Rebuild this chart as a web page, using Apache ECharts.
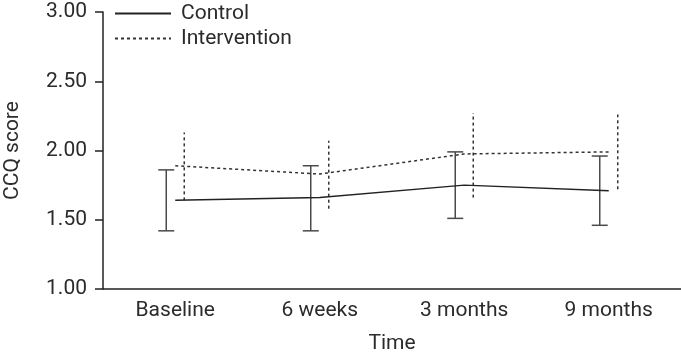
<!DOCTYPE html>
<html>
<head>
<meta charset="utf-8">
<script src="https://cdn.jsdelivr.net/npm/echarts@6/dist/echarts.min.js"></script>
<style>
  html, body { margin: 0; padding: 0; background: #fff; }
  #chart { width: 681px; height: 353px; }
</style>
</head>
<body>
<div id="chart"></div>
<script>
// time points and CCQ scores
const categories = ['Baseline', '6 weeks', '3 months', '9 months'];
const controlMean = [1.64, 1.66, 1.75, 1.71];
const controlLow = [1.42, 1.42, 1.51, 1.46];
const controlHigh = [1.86, 1.89, 1.99, 1.96];
const interventionMean = [1.89, 1.83, 1.975, 1.99];
const interventionLow = [1.64, 1.58, 1.66, 1.72];
const interventionHigh = [2.13, 2.07, 2.27, 2.26];

const textColor = '#2b2b2b';
const font = 'Roboto';

const errData = (lo, hi) => lo.map((v, i) => [i, v, hi[i]]);

// error bars drawn beside the category point, control left, intervention right
function errorBar(offset, dashed) {
  return function (params, api) {
    const i = api.value(0);
    const lo = api.coord([i, api.value(1)]);
    const hi = api.coord([i, api.value(2)]);
    const x = lo[0] + offset;
    const style = dashed
      ? { stroke: '#333', lineWidth: 1.5, lineDash: [3, 3] }
      : { stroke: '#4a4a4a', lineWidth: 1.5 };
    const children = [
      { type: 'line', shape: { x1: x, y1: lo[1], x2: x, y2: hi[1] }, style: style }
    ];
    if (!dashed) {
      children.push({ type: 'line', shape: { x1: x - 8, y1: lo[1], x2: x + 8, y2: lo[1] }, style: style });
      children.push({ type: 'line', shape: { x1: x - 8, y1: hi[1], x2: x + 8, y2: hi[1] }, style: style });
    }
    return { type: 'group', children: children };
  };
}

const chart = echarts.init(document.getElementById('chart'));
chart.setOption({
  animation: false,
  grid: { left: 103, right: 0, top: 12, bottom: 64, outerBoundsMode: 'none', containLabel: false },
  legend: {
    orient: 'vertical',
    left: 109,
    top: -2,
    itemWidth: 56,
    itemHeight: 10,
    itemGap: 4,
    itemStyle: { opacity: 0 },
    data: ['Control', 'Intervention'],
    textStyle: { color: textColor, fontSize: 21, fontFamily: font, padding: [0, 0, 0, 5] }
  },
  xAxis: {
    type: 'category',
    data: categories,
    boundaryGap: true,
    name: 'Time',
    nameLocation: 'middle',
    nameGap: 44,
    nameTextStyle: { color: textColor, fontSize: 21, fontFamily: font },
    axisLine: { lineStyle: { color: '#222', width: 1.5 } },
    axisTick: { alignWithLabel: true, length: 8, lineStyle: { color: '#222', width: 1.5 } },
    axisLabel: { color: textColor, fontSize: 21, fontFamily: font, margin: 11 }
  },
  yAxis: {
    type: 'value',
    min: 1,
    max: 3,
    interval: 0.5,
    name: 'CCQ score',
    nameLocation: 'middle',
    nameGap: 80,
    nameTextStyle: { color: textColor, fontSize: 21, fontFamily: font },
    splitLine: { show: false },
    axisLine: { show: true, lineStyle: { color: '#222', width: 1.5 } },
    axisTick: { show: true, length: 8, lineStyle: { color: '#222', width: 1.5 } },
    axisLabel: { color: textColor, fontSize: 21, fontFamily: font, margin: 16, formatter: v => v.toFixed(2) }
  },
  series: [
    {
      name: 'Control',
      type: 'line',
      data: controlMean,
      symbol: 'none',
      lineStyle: { color: '#222', width: 1.5 },
      itemStyle: { color: '#222' }
    },
    {
      name: 'Intervention',
      type: 'line',
      data: interventionMean,
      symbol: 'none',
      lineStyle: { color: '#333', width: 1.5, type: [3, 3] },
      itemStyle: { color: '#333' }
    },
    {
      type: 'custom',
      data: errData(controlLow, controlHigh),
      renderItem: errorBar(-9, false),
      encode: { x: 0, y: [1, 2] },
      z: 3
    },
    {
      type: 'custom',
      data: errData(interventionLow, interventionHigh),
      renderItem: errorBar(9, true),
      encode: { x: 0, y: [1, 2] },
      z: 3
    }
  ]
});
</script>
</body>
</html>
